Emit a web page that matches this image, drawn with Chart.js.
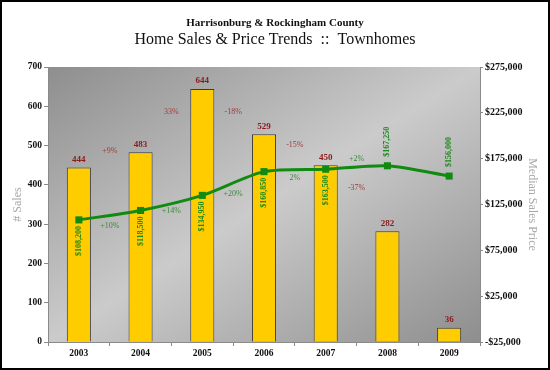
<!DOCTYPE html>
<html>
<head>
<meta charset="utf-8">
<title>Home Sales &amp; Price Trends :: Townhomes</title>
<script src="https://cdn.jsdelivr.net/npm/chart.js@4.4.1/dist/chart.umd.min.js"></script>
<style>
  html, body { margin: 0; padding: 0; background: #fff; }
</style>
</head>
<body>
<canvas id="chart" width="550" height="370"></canvas>
<script>
// data
var years = ['2003', '2004', '2005', '2006', '2007', '2008', '2009'];
var sales = [444, 483, 644, 529, 450, 282, 36];
var prices = [108200, 118500, 134950, 160850, 163500, 167250, 156000];
var salesChange = ['+9%', '33%', '-18%', '-15%', '-37%'];
var priceChange = ['+10%', '+14%', '+20%', '2%', '+2%'];
var salesTicks = [0, 100, 200, 300, 400, 500, 600, 700];
var priceTicks = [-25000, 25000, 75000, 125000, 175000, 225000, 275000];

var serif = '"Liberation Serif", "Times New Roman", serif';

// label nudges (pixels) and placement
var salesPctShift = [-9, -9, 0, -5, -10];
var pricePctShift = [11, 8, 10, 7, -9];
var priceLabelAbove = [false, false, false, false, false, true, true];

function money(v) {
    var s = '$' + Math.abs(v).toLocaleString('en-US');
    return v < 0 ? '-' + s : s;
}

var backdrop = {
    id: 'backdrop',
    beforeDraw: function(chart) {
        var ctx = chart.ctx, a = chart.chartArea;
        var w = a.right - a.left, h = a.bottom - a.top;
        var k = 2 * w * h / (w * w + h * h);
        ctx.save();
        ctx.fillStyle = '#fff';
        ctx.fillRect(0, 0, chart.width, chart.height);
        var g = ctx.createLinearGradient(a.left, a.top, a.left + h * k, a.top + w * k);
        g.addColorStop(0, '#8e8e8e');
        g.addColorStop(0.5, '#cbcbcb');
        g.addColorStop(1, '#8e8e8e');
        ctx.fillStyle = g;
        ctx.fillRect(a.left, a.top, w, h);
        ctx.restore();
    },
    afterDraw: function(chart) {
        var ctx = chart.ctx;
        ctx.save();
        ctx.strokeStyle = '#000';
        ctx.lineWidth = 2;
        ctx.strokeRect(1, 1, chart.width - 2, chart.height - 2);
        ctx.restore();
    }
};

var labels = {
    id: 'labels',
    afterDatasetsDraw: function(chart) {
        var ctx = chart.ctx;
        var bars = chart.getDatasetMeta(0).data;
        var pts = chart.getDatasetMeta(1).data;
        ctx.save();
        ctx.textAlign = 'center';
        ctx.textBaseline = 'middle';

        // sales counts above bars
        ctx.font = 'bold 9px ' + serif;
        ctx.fillStyle = '#8b1a1a';
        bars.forEach(function(b, i) {
            ctx.fillText(String(sales[i]), b.x, b.y - 8);
        });

        // year over year changes
        ctx.font = '8px ' + serif;
        ctx.fillStyle = '#a03a3a';
        salesChange.forEach(function(t, i) {
            var cx = (bars[i].x + bars[i + 1].x) / 2;
            var cy = (bars[i].y + bars[i + 1].y) / 2 + salesPctShift[i];
            ctx.fillText(t, cx, cy);
        });
        ctx.fillStyle = '#3a8a3a';
        priceChange.forEach(function(t, i) {
            var cx = (pts[i].x + pts[i + 1].x) / 2;
            var cy = (pts[i].y + pts[i + 1].y) / 2 + pricePctShift[i];
            ctx.fillText(t, cx, cy);
        });

        // median prices, rotated
        ctx.font = 'bold 8px ' + serif;
        ctx.fillStyle = '#1c8a1c';
        pts.forEach(function(p, i) {
            ctx.save();
            if (priceLabelAbove[i]) {
                ctx.translate(p.x, p.y - 9);
                ctx.textAlign = 'left';
            } else {
                ctx.translate(p.x, p.y + 6);
                ctx.textAlign = 'right';
            }
            ctx.rotate(-Math.PI / 2);
            ctx.fillText(money(prices[i]), 0, 0);
            ctx.restore();
        });
        ctx.restore();
    }
};

var chart = new Chart('chart', {
    type: 'bar',
    data: {
        labels: years,
        datasets: [{
            type: 'bar',
            label: '# Sales',
            data: sales,
            yAxisID: 'y',
            backgroundColor: '#ffcc00',
            borderColor: '#3c3c3c',
            borderWidth: 1,
            barPercentage: 0.39,
            categoryPercentage: 1,
            order: 1
        }, {
            type: 'line',
            label: 'Median Sales Price',
            data: prices,
            yAxisID: 'y1',
            borderColor: '#108a10',
            backgroundColor: '#108a10',
            borderWidth: 3,
            tension: 0.25,
            pointStyle: 'rect',
            pointRadius: 5,
            pointBorderWidth: 0,
            order: 0
        }]
    },
    options: {
        responsive: false,
        animation: false,
        layout: { padding: { top: 17, left: 7, right: 7, bottom: 8 } },
        plugins: {
            legend: { display: false },
            tooltip: { enabled: false },
            title: {
                display: true,
                text: 'Harrisonburg & Rockingham County',
                color: '#111',
                font: { family: serif, size: 11, weight: 'bold', lineHeight: 1.2 },
                padding: { top: 0, bottom: 0 }
            },
            subtitle: {
                display: true,
                text: 'Home Sales & Price Trends  ::  Townhomes',
                color: '#111',
                font: { family: serif, size: 16, weight: 'normal', lineHeight: 1.2 },
                padding: { top: 0, bottom: 17.6 }
            }
        },
        scales: {
            x: {
                afterFit: function(s) { s.height = 20; },
                grid: { drawOnChartArea: false, tickLength: 4, color: '#8a8a8a' },
                border: { color: '#8a8a8a' },
                ticks: { color: '#111', padding: 2, font: { family: serif, size: 9.5, weight: 'bold' } }
            },
            y: {
                position: 'left',
                min: salesTicks[0],
                max: salesTicks[salesTicks.length - 1],
                afterFit: function(s) { s.width = 41; },
                afterBuildTicks: function(s) {
                    s.ticks = salesTicks.map(function(v) { return { value: v }; });
                },
                grid: { drawOnChartArea: false, tickLength: 4, color: '#8a8a8a' },
                border: { color: '#8a8a8a' },
                ticks: { color: '#111', padding: 2, font: { family: serif, size: 9.5, weight: 'bold' } },
                title: {
                    display: true,
                    text: '# Sales',
                    color: '#a8a8a8',
                    font: { family: serif, size: 12 }
                }
            },
            y1: {
                position: 'right',
                min: priceTicks[0],
                max: priceTicks[priceTicks.length - 1],
                afterFit: function(s) { s.width = 63; },
                afterBuildTicks: function(s) {
                    s.ticks = priceTicks.map(function(v) { return { value: v }; });
                },
                grid: { drawOnChartArea: false, tickLength: 3, color: '#8a8a8a' },
                border: { color: '#8a8a8a' },
                ticks: {
                    color: '#111',
                    padding: 2,
                    font: { family: serif, size: 10, weight: 'bold' },
                    callback: function(v) { return money(v); }
                },
                title: {
                    display: true,
                    text: 'Median Sales Price',
                    color: '#a8a8a8',
                    font: { family: serif, size: 12 }
                }
            }
        }
    },
    plugins: [backdrop, labels]
});
</script>
</body>
</html>
